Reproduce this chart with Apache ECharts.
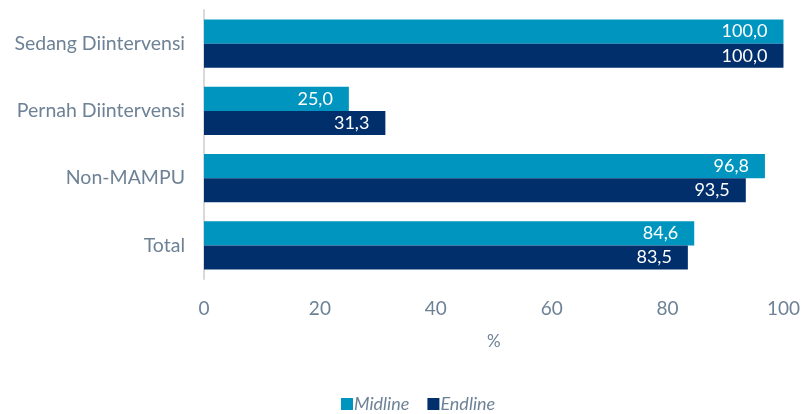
<!DOCTYPE html>
<html><head><meta charset="utf-8">
<script src="https://cdn.jsdelivr.net/npm/echarts@6/dist/echarts.min.js"></script>
<style>html,body{margin:0;padding:0;background:#fff}#c{width:803px;height:414px}</style>
</head><body><div id="c"></div>
<script>
const categories = ["Sedang Diintervensi", "Pernah Diintervensi", "Non-MAMPU", "Total"];
const midline = [100.0, 25.0, 96.8, 84.6];
const endline = [100.0, 31.3, 93.5, 83.5];
const xTicks = [0, 20, 40, 60, 80, 100];
const seriesNames = ["Midline", "Endline"];

const txt = '#6E8296';
const fam = 'Lato, "Noto Sans", sans-serif';
const chart = echarts.init(document.getElementById('c'), null, {renderer: 'canvas'});
const lbl = {
  show: true, position: 'insideRight', color: '#fff', fontSize: 18, fontFamily: fam,
  distance: 16, formatter: p => p.value.toFixed(1).replace('.', ',')
};
chart.setOption({
  animation: false,
  grid: {left: 204, right: 14, top: 10, bottom: 135, containLabel: false},
  legend: {
    bottom: -4, left: 336, itemWidth: 12, itemHeight: 12, itemGap: 18,
    icon: 'rect',
    textStyle: {color: txt, fontSize: 18, fontStyle: 'italic', fontFamily: fam, padding: [0,0,0,-4]},
    data: seriesNames
  },
  xAxis: {
    type: 'value', min: xTicks[0], max: xTicks[xTicks.length-1], interval: 20,
    name: '%', nameLocation: 'middle', nameGap: 54,
    nameTextStyle: {color: txt, fontSize: 17, fontFamily: fam},
    axisLine: {show: false}, axisTick: {show: false}, splitLine: {show: false},
    axisLabel: {color: txt, fontSize: 19, fontFamily: fam, margin: 20}
  },
  yAxis: {
    type: 'category', data: categories, inverse: true,
    axisLine: {show: true, lineStyle: {color: '#D9D9D9', width: 2}},
    axisTick: {show: false},
    axisLabel: {color: txt, fontSize: 19.5, fontFamily: fam, margin: 19}
  },
  series: [
    {name: seriesNames[0], type: 'bar', data: midline, barGap: '0%', barCategoryGap: '28%',
     itemStyle: {color: '#0095BF'}, label: lbl},
    {name: seriesNames[1], type: 'bar', data: endline, barGap: '0%', barCategoryGap: '28%',
     itemStyle: {color: '#002F6C'}, label: lbl}
  ]
});
</script></body></html>
